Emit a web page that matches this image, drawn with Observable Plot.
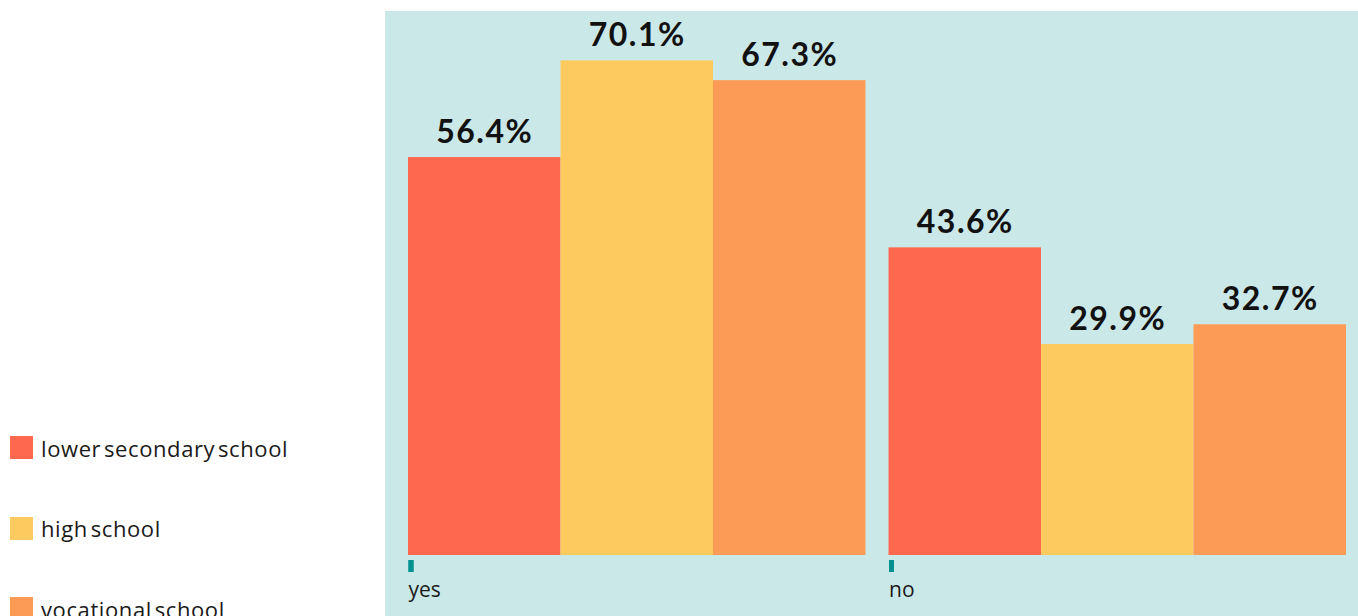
<!DOCTYPE html>
<html>
<head>
<meta charset="utf-8">
<script src="https://cdn.jsdelivr.net/npm/d3@7"></script>
<script src="https://cdn.jsdelivr.net/npm/@observablehq/plot@0.6"></script>
<style>
  html, body { margin: 0; padding: 0; background: #fff; width: 1358px; height: 616px; overflow: hidden; }
  #wrap { position: relative; width: 1358px; height: 616px; }
  #legend { position: absolute; left: 10px; top: 436px; font-family: "Open Sans", sans-serif; font-size: 22px; color: #1a1a1a; letter-spacing: 0.6px; word-spacing: -3.5px; }
  .item { display: flex; align-items: center; height: 23px; margin-bottom: 57.5px; white-space: nowrap; }
  .sw { width: 23px; height: 23px; margin-right: 8px; flex: none; }
  #chart { position: absolute; left: 385px; top: 11px; }
  #chart svg { background: #cbe8e8; display: block; }
  #chart svg .vlabel text { letter-spacing: 1.5px; }
</style>
</head>
<body>
<div id="wrap">
  <div id="legend"></div>
  <div id="chart"></div>
</div>
<script>
const answers = ["yes", "no"];
const schools = ["lower secondary school", "high school", "vocational school"];
const lowerSecondary = [56.4, 43.6];
const highSchool = [70.1, 29.9];
const vocational = [67.3, 32.7];
const colors = ["#fe684e", "#fdca5f", "#fc9b55"];

const series = [lowerSecondary, highSchool, vocational];
const data = [];
answers.forEach((a, i) => {
  schools.forEach((s, j) => {
    data.push({answer: a, school: s, value: series[j][i]});
  });
});

// legend
const legend = document.getElementById("legend");
schools.forEach((s, j) => {
  const it = document.createElement("div");
  it.className = "item";
  it.innerHTML = `<span class="sw" style="background:${colors[j]}"></span><span>${s}</span>`;
  legend.appendChild(it);
});

const chart = Plot.plot({
  width: 973,
  height: 605,
  marginLeft: 23,
  marginRight: 12,
  marginTop: 0,
  marginBottom: 61,
  style: {fontFamily: "'Open Sans', sans-serif", background: "#cbe8e8", overflow: "visible"},
  fx: {domain: answers, paddingInner: 0.0479, paddingOuter: 0, round: false, label: null, axis: null},
  x: {domain: schools, padding: 0, round: false, axis: null},
  y: {domain: [0, 77.1], axis: null},
  color: {domain: schools, range: colors},
  marks: [
    Plot.barY(data, {fx: "answer", x: "school", y: "value", fill: "school"}),
    Plot.text(data, {
      fx: "answer", x: "school", y: "value",
      text: d => d.value.toFixed(1) + "%",
      lineAnchor: "bottom", dy: -15,
      fontSize: 32, fontWeight: "bold", fill: "#111",
      fontFamily: "Lato, 'Open Sans', sans-serif",
      className: "vlabel"
    }),
    Plot.axisFx(answers, {
      anchor: "bottom", label: null,
      tickSize: 12, strokeWidth: 5, stroke: "#009090",
      dx: -226.25, dy: 5,
      tickFormat: () => ""
    }),
    Plot.text(answers, {
      fx: d => d, text: d => d,
      frameAnchor: "bottom-left", textAnchor: "start", lineAnchor: "bottom",
      dy: 41, fontSize: 21, fill: "#1a1a1a"
    })
  ]
});
document.getElementById("chart").appendChild(chart);
</script>
</body>
</html>
